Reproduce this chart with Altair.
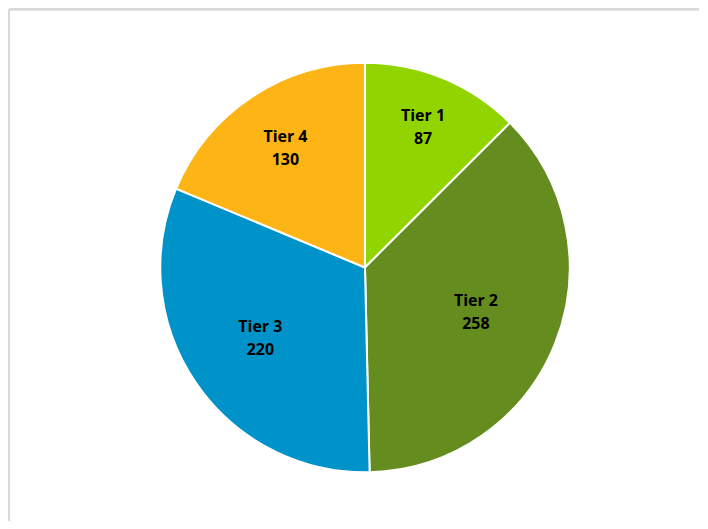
import altair as alt
import pandas as pd

tiers = ["Tier 1", "Tier 2", "Tier 3", "Tier 4"]
values = [87, 258, 220, 130]
colors = ["#92D400", "#648C1E", "#0093C9", "#FDB515"]

df = pd.DataFrame({"tier": tiers, "value": values, "idx": list(range(len(tiers)))})

W, H = 692, 513
R = 205
CX, CY = 357.5, 259.5
LH = 23

pie = alt.Chart(df).mark_arc(outerRadius=R, stroke="white", strokeWidth=2).encode(
    theta=alt.Theta("value:Q", stack=True),
    order=alt.Order("idx:Q"),
    color=alt.Color("tier:N", scale=alt.Scale(domain=tiers, range=colors), legend=None),
    x=alt.value(CX),
    y=alt.value(CY),
)

labels = alt.Chart(df).transform_joinaggregate(
    total="sum(value)"
).transform_window(
    cum="sum(value)", sort=[alt.SortField("idx")], frame=[None, 0]
).transform_calculate(
    mid="datum.cum - datum.value / 2",
    label="datum.tier + '\\n' + datum.value",
    r="168 - 130 * datum.value / datum.total",
).mark_text(
    lineBreak="\n", font="Open Sans", fontWeight="bold",
    fontSize=16, lineHeight=LH, color="black", baseline="middle", dy=-LH / 2
).encode(
    theta=alt.Theta("mid:Q", stack=None),
    radius=alt.Radius("r:Q", scale=None),
    text="label:N",
    x=alt.value(CX),
    y=alt.value(CY),
)

# chart frame (top and left edges only, the rest lies outside the picture)
frame_left = alt.Chart(df).mark_rule(color="#D9D9D9", strokeWidth=2).encode(
    x=alt.value(1), y=alt.value(1), y2=alt.value(H)
)
frame_top = alt.Chart(df).mark_rule(color="#D9D9D9", strokeWidth=2).encode(
    x=alt.value(1), x2=alt.value(W), y=alt.value(1)
)

chart = (frame_left + frame_top + pie + labels).properties(
    width=W, height=H, padding=0
).configure_view(stroke=None)

chart.save("out.html", embed_options={"renderer": "svg", "actions": False})
